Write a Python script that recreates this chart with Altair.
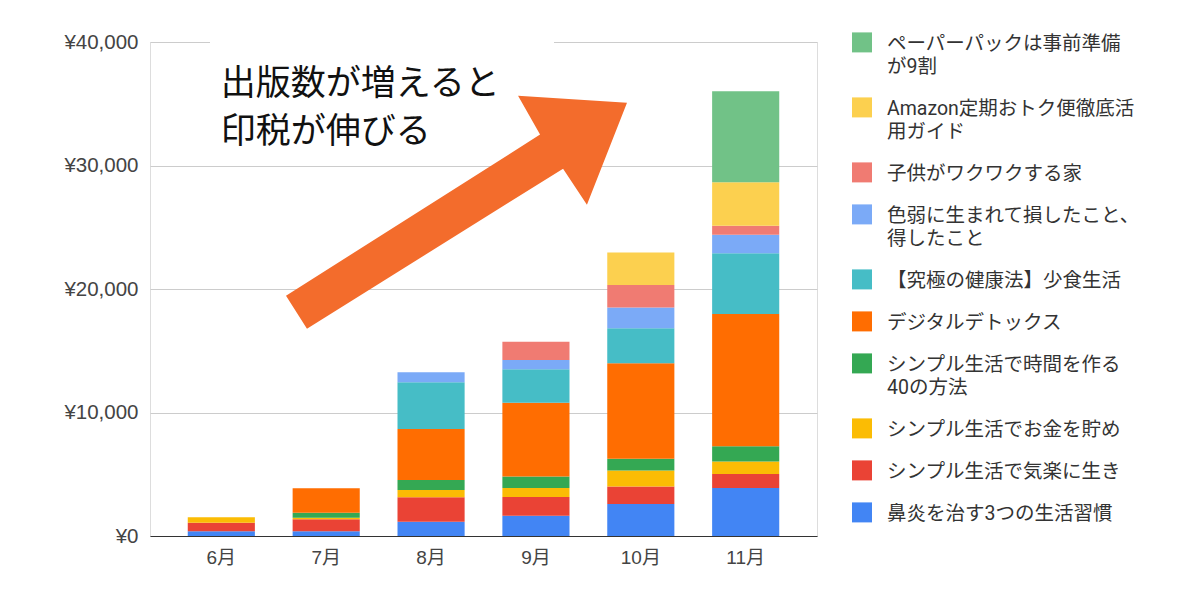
import altair as alt
import pandas as pd

months = ["6月", "7月", "8月", "9月", "10月", "11月"]

# series, bottom of stack first
series = [
    "鼻炎を治す3つの生活習慣",
    "シンプル生活で気楽に生き",
    "シンプル生活でお金を貯め",
    "シンプル生活で時間を作る40の方法",
    "デジタルデトックス",
    "【究極の健康法】少食生活",
    "色弱に生まれて損したこと、得したこと",
    "子供がワクワクする家",
    "Amazon定期おトク便徹底活用ガイド",
    "ペーパーパックは事前準備が9割",
]
legend_labels = [
    "鼻炎を治す3つの生活習慣",
    "シンプル生活で気楽に生き",
    "シンプル生活でお金を貯め",
    "シンプル生活で時間を作る\n40の方法",
    "デジタルデトックス",
    "【究極の健康法】少食生活",
    "色弱に生まれて損したこと、\n得したこと",
    "子供がワクワクする家",
    "Amazon定期おトク便徹底活\n用ガイド",
    "ペーパーパックは事前準備\nが9割",
]
colors = [
    "#4285F4", "#EA4335", "#FBBC04", "#34A853", "#FF6D01",
    "#46BDC6", "#7BAAF7", "#F07B72", "#FCD04F", "#71C287",
]

v_bien = [380, 380, 1160, 1630, 2600, 3880]
v_kiraku = [700, 975, 1980, 1520, 1410, 1140]
v_okane = [440, 130, 590, 730, 1300, 1020]
v_jikan = [0, 400, 810, 940, 950, 1220]
v_digital = [0, 1980, 4120, 5970, 7720, 10710]
v_shoshoku = [0, 0, 3790, 2710, 2850, 4930]
v_shikijaku = [0, 0, 810, 760, 1680, 1490]
v_kodomo = [0, 0, 0, 1460, 1820, 730]
v_amazon = [0, 0, 0, 0, 2630, 3530]
v_paperback = [0, 0, 0, 0, 0, 7370]

values = [v_bien, v_kiraku, v_okane, v_jikan, v_digital,
          v_shoshoku, v_shikijaku, v_kodomo, v_amazon, v_paperback]

y_ticks = [0, 10000, 20000, 30000, 40000]
note_text = "出版数が増えると\n印税が伸びる"

rows = []
for i, (s, vals) in enumerate(zip(series, values)):
    for m, v in zip(months, vals):
        if v > 0:
            rows.append({"month": m, "series": s, "value": v, "idx": i})
df = pd.DataFrame(rows)

label_map = {s: l for s, l in zip(series, legend_labels)}
label_expr = "split({" + ",".join(
    "'%s':'%s'" % (s, l.replace("\n", "|")) for s, l in label_map.items()
) + "}[datum.label], '|')"

FONT = "Roboto, 'Noto Sans CJK JP', sans-serif"
AXFONT = "'Liberation Sans', Arial, 'Noto Sans CJK JP', sans-serif"

bars = alt.Chart(df).mark_bar().encode(
    x=alt.X("month:N", sort=months, title=None,
            scale=alt.Scale(paddingInner=0.36, paddingOuter=0.36),
            axis=alt.Axis(labelAngle=0, ticks=False, domainColor="#333333",
                          domainWidth=1, labelPadding=12, labelFontSize=19,
                          labelColor="#444444", labelFont=AXFONT)),
    y=alt.Y("value:Q", stack="zero", title=None,
            scale=alt.Scale(domain=[0, 40000], nice=False),
            axis=alt.Axis(values=y_ticks, domain=False, ticks=False,
                          labelExpr="'¥' + format(datum.value, ',')",
                          labelPadding=12, labelFontSize=20.5,
                          labelColor="#444444", labelFont=AXFONT,
                          gridColor="#cccccc", gridWidth=1)),
    color=alt.Color("series:N",
                    scale=alt.Scale(domain=series[::-1], range=colors[::-1]),
                    legend=alt.Legend(
                        title=None, orient="none", legendX=702, legendY=-2,
                        symbolType="M-1,-1.76H1V0.24H-1Z", symbolSize=400,
                        symbolStrokeWidth=0, symbolOffset=0,
                        labelOffset=15, labelFontSize=19.5, labelFont=FONT,
                        labelColor="#333333", labelLimit=400,
                        labelBaseline="alphabetic", rowPadding=20,
                        padding=0, labelExpr=label_expr)),
    order=alt.Order("idx:Q", sort="ascending"),
)

one = pd.DataFrame({"k": [0]})

white_box = alt.Chart(one).mark_rect(color="white").encode(
    x=alt.value(60), x2=alt.value(404), y=alt.value(-12), y2=alt.value(88)
)

note = alt.Chart(one).mark_text(
    text=note_text, lineBreak="\n", lineHeight=48, align="left",
    baseline="middle", fontSize=35, font="'Noto Sans CJK JP'", color="#111111"
).encode(x=alt.value(70.7), y=alt.value(41.7))

arrow_path = ("M-1,0.490 L0.490,-0.455 L0.361,-0.683 L1,-0.642 "
              "L0.765,-0.044 L0.625,-0.255 L-0.877,0.683 Z")
arrow = alt.Chart(one).mark_point(
    shape=arrow_path, filled=True, color="#F36C2C", opacity=1,
    strokeWidth=0, size=116281
).encode(x=alt.value(306.5), y=alt.value(170.2))

chart = alt.layer(bars, white_box, note, arrow).properties(
    width=667, height=494,
    autosize=alt.AutoSizeParams(type="none"),
    padding={"left": 142, "top": 34, "right": 375, "bottom": 56},
).configure_view(stroke=None).configure(
    style={"guide-label": {"lineHeight": 23}}
)

chart.save("out.html", embed_options={"renderer": "svg", "actions": False})
